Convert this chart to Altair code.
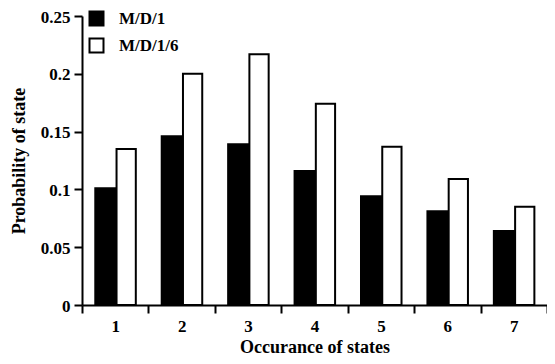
import altair as alt
import pandas as pd

states = [1, 2, 3, 4, 5, 6, 7]
md1 = [0.101, 0.146, 0.139, 0.116, 0.094, 0.081, 0.064]
md16 = [0.135, 0.200, 0.217, 0.174, 0.137, 0.109, 0.085]
series = ["M/D/1", "M/D/1/6"]
y_ticks = [0, 0.05, 0.1, 0.15, 0.2, 0.25]
x_ticks = [0.5, 1, 1.5, 2, 2.5, 3, 3.5, 4, 4.5, 5, 5.5, 6, 6.5, 7, 7.5]

rows = []
for s, a, b in zip(states, md1, md16):
    rows.append({"state": s, "series": series[0], "value": a, "lo": -0.3, "hi": 0.02})
    rows.append({"state": s, "series": series[1], "value": b, "lo": 0.02, "hi": 0.31})
df = pd.DataFrame(rows)

FONT = "Liberation Serif"

chart = (
    alt.Chart(df)
    .transform_calculate(x0="datum.state + datum.lo", x1="datum.state + datum.hi", base="0")
    .mark_bar(stroke="black", strokeWidth=2)
    .encode(
        x=alt.X(
            "x0:Q",
            scale=alt.Scale(domain=[0.5, 7.5], nice=False, zero=False),
            axis=alt.Axis(
                title="Occurance of states",
                values=x_ticks,
                format="~g",
                labelExpr="datum.value % 1 === 0 ? datum.label : ''",
                labelOverlap=False,
                tickOpacity={"condition": {"test": "datum.value % 1 === 0", "value": 0}, "value": 1},
                grid=False,
                tickSize=8,
                labelPadding=5,
                titlePadding=4,
            ),
        ),
        x2="x1:Q",
        y=alt.Y(
            "value:Q",
            scale=alt.Scale(domain=[0, 0.25], nice=False),
            axis=alt.Axis(
                title="Probability of state",
                values=y_ticks,
                format="~g",
                grid=False,
                tickSize=8,
                labelPadding=4,
                labelOffset=1,
                titlePadding=12,
            ),
        ),
        y2="base:Q",
        color=alt.Color(
            "series:N",
            scale=alt.Scale(domain=series, range=["black", "white"]),
            legend=alt.Legend(
                title=None,
                orient="none",
                legendX=6,
                legendY=-6,
                symbolType="square",
                symbolSize=196,
                symbolStrokeColor="black",
                symbolStrokeWidth=2,
                labelOffset=14,
                rowPadding=4,
                padding=0,
                labelFont=FONT,
                labelFontSize=17,
                labelFontWeight="bold",
                labelColor="black",
            ),
        ),
    )
    .properties(
        width=465,
        height=289,
        autosize=alt.AutoSizeParams(type="none", contains="content"),
        padding={"left": 74, "top": 8, "right": 0, "bottom": 52},
    )
    .configure_view(stroke=None)
    .configure_axis(
        domainColor="black",
        domainWidth=2,
        tickColor="black",
        tickWidth=2,
        labelFont=FONT,
        labelFontSize=17,
        labelFontWeight="bold",
        labelColor="black",
        titleFont=FONT,
        titleFontSize=18,
        titleFontWeight="bold",
        titleColor="black",
    )
)

chart.save("out.html", embed_options={"renderer": "svg", "actions": False})
